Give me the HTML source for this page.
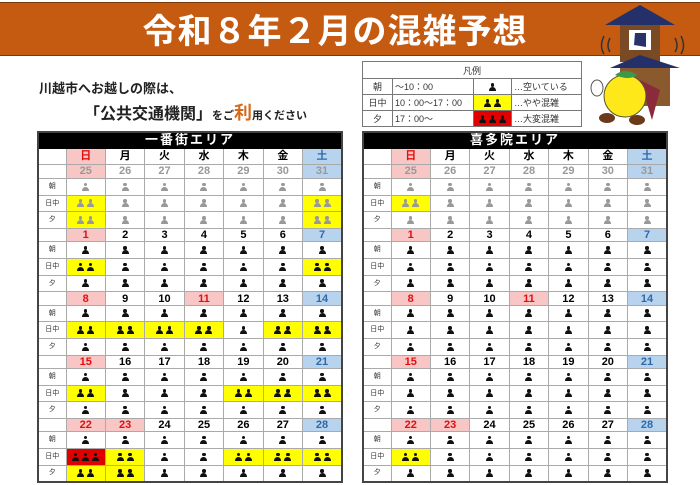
<!DOCTYPE html>
<html><head><meta charset="utf-8"><style>
*{box-sizing:border-box;margin:0;padding:0}
body{width:700px;height:485px;background:#fff;position:relative;overflow:hidden;font-family:"Liberation Sans","Noto Sans CJK JP",sans-serif}
.bar{position:absolute;left:0;top:2px;width:700px;height:54px;background:#c55a11;border-top:1px solid #7a3a0c;border-bottom:1px solid #7a3a0c}
.title{position:absolute;left:100px;top:4px;width:470px;text-align:center;color:#fff;font-size:34px;font-weight:bold;line-height:50px;letter-spacing:1px;white-space:nowrap;font-family:"Noto Sans CJK JP",sans-serif}
.l1{position:absolute;left:39px;top:79px;font-size:13px;font-weight:bold;color:#222;font-family:"Noto Sans CJK JP",sans-serif;line-height:18px;white-space:nowrap}
.l2{position:absolute;left:84px;top:101px;font-weight:bold;color:#222;font-family:"Noto Sans CJK JP",sans-serif;line-height:22px;white-space:nowrap}
.l2 .b{font-size:16px}.l2 .s{font-size:11px}.l2 .o{font-size:18px;color:#d46a1a}
.lg{position:absolute;left:362px;top:61px;width:219px;border-collapse:collapse;table-layout:fixed;font-size:9px;color:#333}
.lg td{border:1px solid #777;height:16px;padding:0 2px;white-space:nowrap}
.cal{position:absolute;top:131px;width:306px;border-collapse:collapse;table-layout:fixed;border:2px solid #444;font-weight:bold}
.cal td,.cal th{border:1px solid #aaa;padding:0;text-align:center;overflow:hidden;white-space:nowrap;line-height:10px}
.cal .hd th{background:#000;color:#fff;font-size:13px;height:16px;letter-spacing:2px;border-color:#000}
.cal .dw td{height:16px;font-size:11px}
.cal .dt td{height:13.33px;font-size:11px;border-top:1px solid #555}
.cal .d0 td{height:14.67px;color:#999}
.cal .s td{height:16.67px}
.cal .s td:first-child{font-size:7px;font-weight:normal;color:#333}
.su{background:#f9c6c6;color:#e01010}
.sa{background:#b7d3ee;color:#2e6aa8}
.d0 .su{color:#e8a0a0}
.d0 .sa{color:#2e6aa8}
.y{background:#ffff00}.r{background:#e00000}
i{display:inline-block;width:7px;height:8px;position:relative;margin:0 1.5px;vertical-align:middle;color:#111}
i::before{content:"";position:absolute;left:1.75px;top:0;width:3.5px;height:3.5px;border-radius:50%;background:currentColor}
i::after{content:"";position:absolute;left:0;top:4px;width:7px;height:4px;border-radius:3.5px 3.5px 0 0;background:currentColor}
.g i{color:#999}
</style></head><body>
<div class="bar"></div>
<div class="title">令和８年２月の混雑予想</div>
<svg style="position:absolute;left:585px;top:0" width="115" height="130" viewBox="0 0 115 130">
<rect x="35" y="22" width="40" height="40" fill="#7a4a24"/>
<rect x="44" y="30" width="22" height="20" fill="#fff"/>
<path d="M50 33h11v14l-12-2z" fill="#2a3368"/>
<polygon points="20,25 55,5 90,25" fill="#23306a"/>
<rect x="35" y="66" width="50" height="40" fill="#8a5a2e"/>
<polygon points="25,68 55,55 95,68" fill="#23306a"/>
<path d="M25 38q-4 8 0 14M19 36q-5 10 0 18M90 38q4 8 0 14M96 36q5 10 0 18" stroke="#333" fill="none" stroke-width="1.5"/>
<path d="M55 80l20 10-8 30z" fill="#8a2a3a"/>
<circle cx="40" cy="96" r="21" fill="#ffe81a" stroke="#553" stroke-width="1"/>
<path d="M30 75q10-8 22 0q-8 6-22 0z" fill="#3a9a4a"/>
<ellipse cx="22" cy="118" rx="8" ry="5" fill="#6a3a1a"/><ellipse cx="52" cy="120" rx="8" ry="5" fill="#6a3a1a"/>
<ellipse cx="12" cy="88" rx="6" ry="8" fill="#fff" stroke="#555"/>
</svg>
<div class="l1">川越市へお越しの際は、</div>
<div class="l2"><span class="b">「公共交通機関」</span><span class="s">をご</span><span class="o">利</span><span class="s">用ください</span></div>
<table class="lg">
<colgroup><col style="width:30px"><col style="width:81px"><col style="width:38px"><col style="width:70px"></colgroup>
<tr><td colspan="4" style="text-align:center;height:17px">凡例</td></tr>
<tr><td style="text-align:center">朝</td><td>～10：00</td><td style="text-align:center"><i></i></td><td>…空いている</td></tr>
<tr><td style="text-align:center">日中</td><td>10：00～17：00</td><td class="y" style="text-align:center"><i></i><i></i></td><td>…やや混雑</td></tr>
<tr><td style="text-align:center">夕</td><td>17：00～</td><td class="r" style="text-align:center"><i></i><i></i><i></i></td><td>…大変混雑</td></tr>
</table>

<table class="cal" style="left:37px">
<colgroup><col style="width:28px"><col><col><col><col><col><col><col></colgroup>
<tr class="hd"><th colspan="8">一番街エリア</th></tr>
<tr class="dw"><td></td><td class="su">日</td><td>月</td><td>火</td><td>水</td><td>木</td><td>金</td><td class="sa">土</td></tr>
<tr class="dt d0"><td></td><td class="su">25</td><td>26</td><td>27</td><td>28</td><td>29</td><td>30</td><td class="sa">31</td></tr>
<tr class="s g"><td>朝</td><td><i></i></td><td><i></i></td><td><i></i></td><td><i></i></td><td><i></i></td><td><i></i></td><td><i></i></td></tr>
<tr class="s g"><td>日中</td><td class="y"><i></i><i></i></td><td><i></i></td><td><i></i></td><td><i></i></td><td><i></i></td><td><i></i></td><td class="y"><i></i><i></i></td></tr>
<tr class="s g"><td>夕</td><td class="y"><i></i><i></i></td><td><i></i></td><td><i></i></td><td><i></i></td><td><i></i></td><td><i></i></td><td class="y"><i></i><i></i></td></tr>
<tr class="dt"><td></td><td class="su">1</td><td>2</td><td>3</td><td>4</td><td>5</td><td>6</td><td class="sa">7</td></tr>
<tr class="s"><td>朝</td><td><i></i></td><td><i></i></td><td><i></i></td><td><i></i></td><td><i></i></td><td><i></i></td><td><i></i></td></tr>
<tr class="s"><td>日中</td><td class="y"><i></i><i></i></td><td><i></i></td><td><i></i></td><td><i></i></td><td><i></i></td><td><i></i></td><td class="y"><i></i><i></i></td></tr>
<tr class="s"><td>夕</td><td><i></i></td><td><i></i></td><td><i></i></td><td><i></i></td><td><i></i></td><td><i></i></td><td><i></i></td></tr>
<tr class="dt"><td></td><td class="su">8</td><td>9</td><td>10</td><td class="su">11</td><td>12</td><td>13</td><td class="sa">14</td></tr>
<tr class="s"><td>朝</td><td><i></i></td><td><i></i></td><td><i></i></td><td><i></i></td><td><i></i></td><td><i></i></td><td><i></i></td></tr>
<tr class="s"><td>日中</td><td class="y"><i></i><i></i></td><td class="y"><i></i><i></i></td><td class="y"><i></i><i></i></td><td class="y"><i></i><i></i></td><td><i></i></td><td class="y"><i></i><i></i></td><td class="y"><i></i><i></i></td></tr>
<tr class="s"><td>夕</td><td><i></i></td><td><i></i></td><td><i></i></td><td><i></i></td><td><i></i></td><td><i></i></td><td><i></i></td></tr>
<tr class="dt"><td></td><td class="su">15</td><td>16</td><td>17</td><td>18</td><td>19</td><td>20</td><td class="sa">21</td></tr>
<tr class="s"><td>朝</td><td><i></i></td><td><i></i></td><td><i></i></td><td><i></i></td><td><i></i></td><td><i></i></td><td><i></i></td></tr>
<tr class="s"><td>日中</td><td class="y"><i></i><i></i></td><td><i></i></td><td><i></i></td><td><i></i></td><td class="y"><i></i><i></i></td><td class="y"><i></i><i></i></td><td class="y"><i></i><i></i></td></tr>
<tr class="s"><td>夕</td><td><i></i></td><td><i></i></td><td><i></i></td><td><i></i></td><td><i></i></td><td><i></i></td><td><i></i></td></tr>
<tr class="dt"><td></td><td class="su">22</td><td class="su">23</td><td>24</td><td>25</td><td>26</td><td>27</td><td class="sa">28</td></tr>
<tr class="s"><td>朝</td><td><i></i></td><td><i></i></td><td><i></i></td><td><i></i></td><td><i></i></td><td><i></i></td><td><i></i></td></tr>
<tr class="s"><td>日中</td><td class="r"><i></i><i></i><i></i></td><td class="y"><i></i><i></i></td><td><i></i></td><td><i></i></td><td class="y"><i></i><i></i></td><td class="y"><i></i><i></i></td><td class="y"><i></i><i></i></td></tr>
<tr class="s"><td>夕</td><td class="y"><i></i><i></i></td><td class="y"><i></i><i></i></td><td><i></i></td><td><i></i></td><td><i></i></td><td><i></i></td><td><i></i></td></tr>
</table>

<table class="cal" style="left:362px">
<colgroup><col style="width:28px"><col><col><col><col><col><col><col></colgroup>
<tr class="hd"><th colspan="8">喜多院エリア</th></tr>
<tr class="dw"><td></td><td class="su">日</td><td>月</td><td>火</td><td>水</td><td>木</td><td>金</td><td class="sa">土</td></tr>
<tr class="dt d0"><td></td><td class="su">25</td><td>26</td><td>27</td><td>28</td><td>29</td><td>30</td><td class="sa">31</td></tr>
<tr class="s g"><td>朝</td><td><i></i></td><td><i></i></td><td><i></i></td><td><i></i></td><td><i></i></td><td><i></i></td><td><i></i></td></tr>
<tr class="s g"><td>日中</td><td class="y"><i></i><i></i></td><td><i></i></td><td><i></i></td><td><i></i></td><td><i></i></td><td><i></i></td><td><i></i></td></tr>
<tr class="s g"><td>夕</td><td><i></i></td><td><i></i></td><td><i></i></td><td><i></i></td><td><i></i></td><td><i></i></td><td><i></i></td></tr>
<tr class="dt"><td></td><td class="su">1</td><td>2</td><td>3</td><td>4</td><td>5</td><td>6</td><td class="sa">7</td></tr>
<tr class="s"><td>朝</td><td><i></i></td><td><i></i></td><td><i></i></td><td><i></i></td><td><i></i></td><td><i></i></td><td><i></i></td></tr>
<tr class="s"><td>日中</td><td><i></i></td><td><i></i></td><td><i></i></td><td><i></i></td><td><i></i></td><td><i></i></td><td><i></i></td></tr>
<tr class="s"><td>夕</td><td><i></i></td><td><i></i></td><td><i></i></td><td><i></i></td><td><i></i></td><td><i></i></td><td><i></i></td></tr>
<tr class="dt"><td></td><td class="su">8</td><td>9</td><td>10</td><td class="su">11</td><td>12</td><td>13</td><td class="sa">14</td></tr>
<tr class="s"><td>朝</td><td><i></i></td><td><i></i></td><td><i></i></td><td><i></i></td><td><i></i></td><td><i></i></td><td><i></i></td></tr>
<tr class="s"><td>日中</td><td><i></i></td><td><i></i></td><td><i></i></td><td><i></i></td><td><i></i></td><td><i></i></td><td><i></i></td></tr>
<tr class="s"><td>夕</td><td><i></i></td><td><i></i></td><td><i></i></td><td><i></i></td><td><i></i></td><td><i></i></td><td><i></i></td></tr>
<tr class="dt"><td></td><td class="su">15</td><td>16</td><td>17</td><td>18</td><td>19</td><td>20</td><td class="sa">21</td></tr>
<tr class="s"><td>朝</td><td><i></i></td><td><i></i></td><td><i></i></td><td><i></i></td><td><i></i></td><td><i></i></td><td><i></i></td></tr>
<tr class="s"><td>日中</td><td><i></i></td><td><i></i></td><td><i></i></td><td><i></i></td><td><i></i></td><td><i></i></td><td><i></i></td></tr>
<tr class="s"><td>夕</td><td><i></i></td><td><i></i></td><td><i></i></td><td><i></i></td><td><i></i></td><td><i></i></td><td><i></i></td></tr>
<tr class="dt"><td></td><td class="su">22</td><td class="su">23</td><td>24</td><td>25</td><td>26</td><td>27</td><td class="sa">28</td></tr>
<tr class="s"><td>朝</td><td><i></i></td><td><i></i></td><td><i></i></td><td><i></i></td><td><i></i></td><td><i></i></td><td><i></i></td></tr>
<tr class="s"><td>日中</td><td class="y"><i></i><i></i></td><td><i></i></td><td><i></i></td><td><i></i></td><td><i></i></td><td><i></i></td><td><i></i></td></tr>
<tr class="s"><td>夕</td><td><i></i></td><td><i></i></td><td><i></i></td><td><i></i></td><td><i></i></td><td><i></i></td><td><i></i></td></tr>
</table>
</body></html>
